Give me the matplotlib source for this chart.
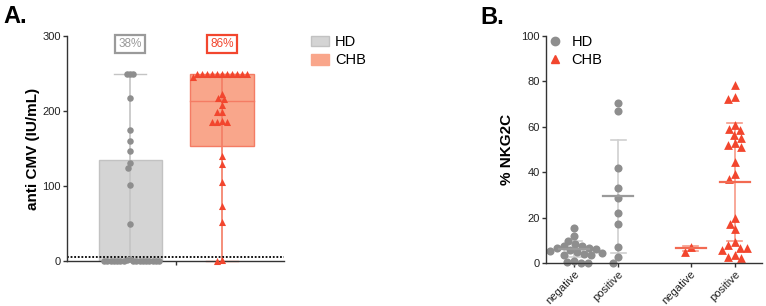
import numpy as np
import matplotlib.pyplot as plt
from matplotlib.patches import Patch, Rectangle
from matplotlib.lines import Line2D

plt.rcParams['font.family'] = ['Liberation Sans', 'DejaVu Sans']

# ---- data, panel A: anti CMV (IU/mL) ----
cmv_groups = ['HD', 'CHB']
hd_cmv = [250, 250, 250, 217, 175, 160, 147, 131, 124, 101, 49,
          3, 1, 0.5, 0.5, 0.3, 0, 0, 0, 0, 0, 0, 0, 0, 0, 0, 0, 0, 0]
chb_cmv = [250, 250, 250, 250, 250, 250, 250, 250, 250, 250, 250, 245,
           223, 218, 216, 208, 199, 199, 187, 186, 186, 185,
           140, 130, 105, 73, 52, 1, 0]
cmv_q1 = [0, 153]
cmv_median = [0, 213]
cmv_q3 = [135, 250]
cmv_low = [0, 0]
cmv_high = [250, 250]
cmv_pct = ['38%', '86%']
cmv_cutoff = 5.5

# ---- data, panel B: % NKG2C ----
nkg_labels = ['negative', 'positive', 'negative', 'positive']
hd_neg = [15.2, 11.7, 9.8, 8.2, 7.5, 7.3, 6.8, 6.5, 6.0, 5.6, 5.2, 4.8,
          4.5, 4.0, 3.6, 3.4, 1.0, 0.5, 0.2, 0.0]
hd_pos = [70.5, 67.0, 42.0, 33.0, 28.5, 22.0, 17.0, 7.0, 2.5, 0.0]
chb_neg = [5.0, 7.0]
chb_pos = [78.3, 73.3, 72.3, 61.0, 58.9, 58.6, 56.5, 55.0, 53.0, 51.8, 51.0,
           44.3, 39.3, 37.0, 19.8, 17.3, 14.8, 9.1, 8.1, 6.6, 6.6, 5.9,
           3.7, 2.5, 2.2]
nkg_mean = [6.1, 29.3, 6.4, 35.6]
nkg_sd_low = [2.5, 4.4, 5.1, 9.8]
nkg_sd_high = [9.8, 54.0, 7.6, 61.6]

GRAY = '#8e8e8e'
RED = '#f2462e'


def swarm(vals, ypx, xpx, dpx, maxhalf):
    # simple beeswarm in pixel space, returns offsets in x data units
    vals = np.asarray(vals, float)
    order = np.argsort(-vals, kind='stable')
    placed = []
    offs = np.zeros(len(vals))
    for i in order:
        y = vals[i] * ypx
        cands = [0.0]
        blocks = []
        for px, py in placed:
            dy = abs(py - y)
            if dy < dpx:
                dx = np.sqrt(dpx ** 2 - dy ** 2)
                blocks.append((px - dx, px + dx))
                cands += [px - dx, px + dx]
        cands.sort(key=abs)
        c = 0.0
        for c in cands:
            if all(not (a + 1e-9 < c < b - 1e-9) for a, b in blocks):
                break
        offs[i] = c
        placed.append((c, y))
    m = np.abs(offs).max()
    if m > maxhalf:
        offs *= maxhalf / m
    return offs / xpx


fig = plt.figure(figsize=(7.66, 3.06), dpi=100)

# ================= panel A =================
axA = fig.add_axes([67 / 766, 1 - 261 / 306, 217 / 766, 225 / 306])
xpxA, ypxA = 92.0, 225 / 300
xA = [0, 1]
bw = 0.685
face = ['#d4d4d4', '#f9a68b']
edge = ['#c2c2c2', '#f47c64']
line_c = ['#c4c4c4', '#f47c64']
for k in range(2):
    axA.add_patch(Rectangle((xA[k] - bw / 2, cmv_q1[k]), bw, cmv_q3[k] - cmv_q1[k],
                            facecolor=face[k], edgecolor=edge[k], lw=1, zorder=1))
    axA.plot([xA[k] - bw / 2, xA[k] + bw / 2], [cmv_median[k]] * 2, color=edge[k], lw=1, zorder=1.5)
    axA.plot([xA[k]] * 2, [cmv_low[k], cmv_high[k]], color=line_c[k], lw=1.2, zorder=1.2)
    for v in (cmv_low[k], cmv_high[k]):
        axA.plot([xA[k] - 0.17, xA[k] + 0.17], [v, v], color=line_c[k], lw=1, zorder=1.2, clip_on=False)

offs = swarm(hd_cmv, ypxA, xpxA, 6, 29)
axA.scatter(xA[0] + offs, hd_cmv, s=22, color=GRAY, zorder=3, clip_on=False, linewidths=0)
offs = swarm(chb_cmv, ypxA, xpxA, 6, 29)
axA.scatter(xA[1] + offs, chb_cmv, s=26, marker='^', color=RED, zorder=3, clip_on=False, linewidths=0)

axA.axhline(cmv_cutoff, color='black', lw=1.3, ls=(0, (1, 1)), zorder=2)

for k, (t, ec) in enumerate(zip(cmv_pct, ['#9a9a9a', RED])):
    axA.text(xA[k], 289, t, ha='center', va='center', fontsize=8.5, color=ec,
             bbox=dict(boxstyle='square,pad=0.25', fc='white', ec=ec, lw=1.6))

axA.set_xlim(-0.685, 1.674)
axA.set_ylim(0, 300)
axA.set_yticks([0, 100, 200, 300])
axA.set_xticks([0.5])
axA.set_xticklabels([])
axA.set_ylabel('anti CMV (IU/mL)', fontsize=11, fontweight='bold')
axA.yaxis.set_label_coords(-0.124, 0.5)
axA.legend(handles=[Patch(fc='#d4d4d4', ec='#c2c2c2', label='HD'),
                    Patch(fc='#f9a68b', ec='#f9a68b', label='CHB')],
           loc='upper left', bbox_to_anchor=(311 / 766, 1 - 35 / 306), bbox_transform=fig.transFigure,
           frameon=False, fontsize=10.5, handlelength=1.2, handleheight=0.75,
           borderpad=0, borderaxespad=0, labelspacing=0.3, handletextpad=0.45)

# ================= panel B =================
axB = fig.add_axes([546 / 766, 1 - 263 / 306, 216 / 766, 227 / 306])
xpxB, ypxB = 44.0, 227 / 100
xB = [0, 1, 2.65, 3.65]
groups = [hd_neg, hd_pos, chb_neg, chb_pos]
marks = ['o', 'o', '^', '^']
cols = [GRAY, GRAY, RED, RED]
sd_c = ['#d0d0d0', '#d0d0d0', '#f79a88', '#f79a88']
mean_c = ['#9a9a9a', '#9a9a9a', '#f26a52', '#f26a52']
for k in range(4):
    offs = swarm(groups[k], ypxB, xpxB, 7.5, 28)
    axB.scatter(xB[k] + offs, groups[k], s=34 if marks[k] == 'o' else 40, marker=marks[k],
                color=cols[k], zorder=2, clip_on=False, linewidths=0)
    axB.plot([xB[k]] * 2, [nkg_sd_low[k], nkg_sd_high[k]], color=sd_c[k], lw=1.2, zorder=1)
    for v in (nkg_sd_low[k], nkg_sd_high[k]):
        axB.plot([xB[k] - 0.17, xB[k] + 0.17], [v, v], color=sd_c[k], lw=1.2, zorder=1)
    axB.plot([xB[k] - 0.34, xB[k] + 0.34], [nkg_mean[k]] * 2, color=mean_c[k], lw=1.6, zorder=3)

axB.set_xlim(-0.64, 4.27)
axB.set_ylim(0, 100)
axB.set_yticks([0, 20, 40, 60, 80, 100])
axB.set_xticks(xB)
axB.set_xticklabels(nkg_labels, rotation=45, ha='right', rotation_mode='anchor', fontsize=8)
axB.set_ylabel('% NKG2C', fontsize=11, fontweight='bold')
axB.yaxis.set_label_coords(-0.148, 0.5)
axB.legend(handles=[Line2D([], [], marker='o', ls='none', color=GRAY, markersize=6, label='HD'),
                    Line2D([], [], marker='^', ls='none', color=RED, markersize=6, label='CHB')],
           loc='upper left', bbox_to_anchor=(548 / 766, 1 - 35 / 306), bbox_transform=fig.transFigure,
           frameon=False, fontsize=10.5, handlelength=1.0, borderpad=0, borderaxespad=0,
           labelspacing=0.25, handletextpad=0.6)

for ax in (axA, axB):
    for s in ('top', 'right'):
        ax.spines[s].set_visible(False)
    for s in ('left', 'bottom'):
        ax.spines[s].set_color('#333333')
        ax.spines[s].set_linewidth(1)
    ax.tick_params(axis='both', length=3, width=1, color='#333333', labelsize=8, pad=1.5,
                   labelcolor='#222222')
    ax.set_facecolor('none')

fig.text(3 / 766, 1 - 23 / 306, 'A.', fontsize=17, fontweight='bold', va='baseline')
fig.text(480 / 766, 1 - 24 / 306, 'B.', fontsize=17, fontweight='bold', va='baseline')

fig.savefig('out.png', dpi=100)
